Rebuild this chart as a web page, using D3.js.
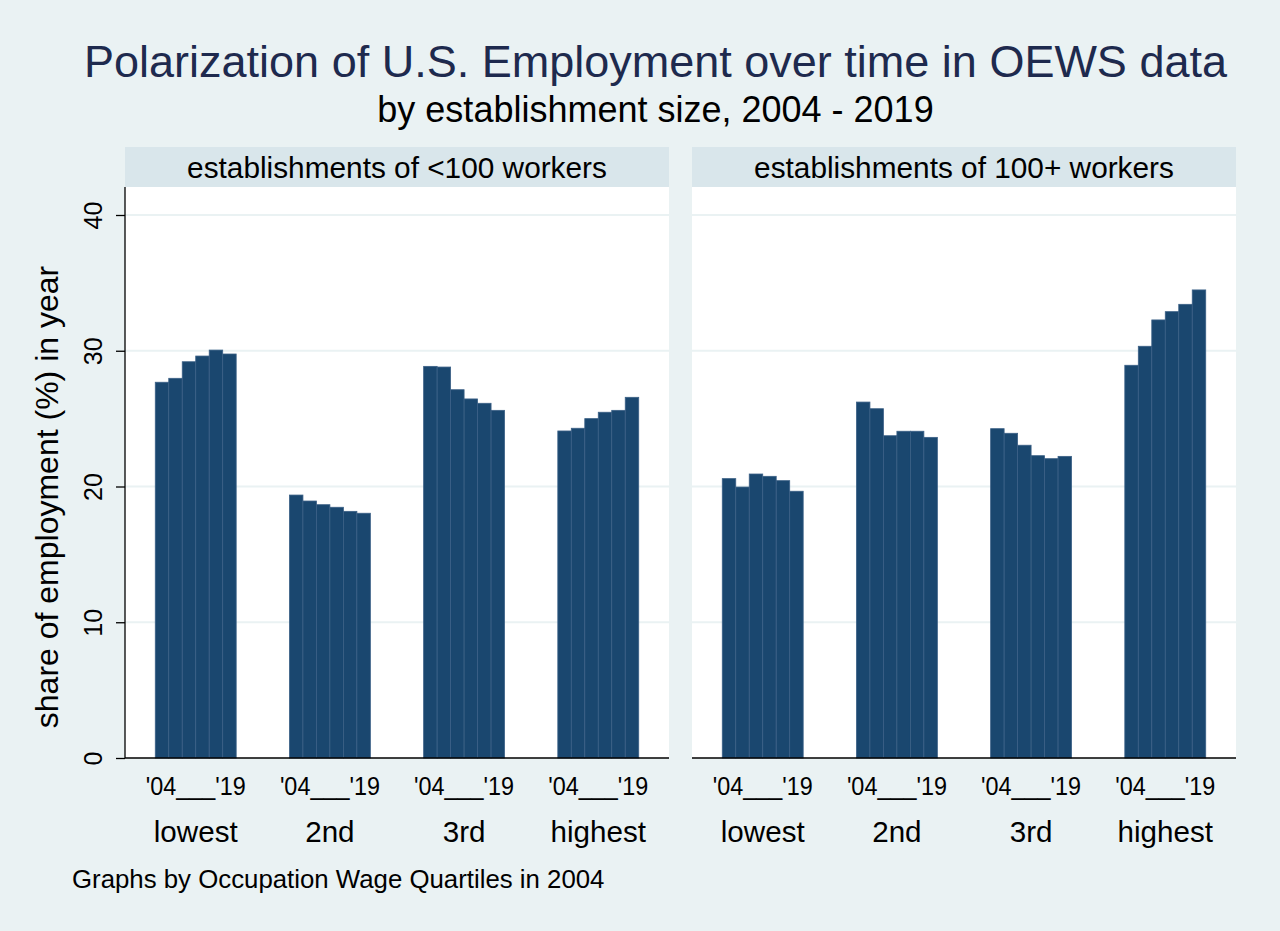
<!DOCTYPE html>
<html>
<head>
<meta charset="utf-8">
<script src="https://cdn.jsdelivr.net/npm/d3@7"></script>
<style>
  html, body { margin: 0; padding: 0; background: #EAF2F3; }
  svg { display: block; }
  text { font-family: "Liberation Sans", Arial, Helvetica, sans-serif; }
</style>
</head>
<body>
<svg id="chart" width="1280" height="931"></svg>
<script>
// ---------- data ----------
const titleText = "Polarization of U.S. Employment over time in OEWS data";
const subtitleText = "by establishment size, 2004 - 2019";
const yTitle = "share of employment (%) in year";
const noteText = "Graphs by Occupation Wage Quartiles in 2004";
const panels = ["establishments of <100 workers", "establishments of 100+ workers"];
const quartiles = ["lowest", "2nd", "3rd", "highest"];
const years = [2004, 2007, 2010, 2013, 2016, 2019];
const yearTickLabel = "'04___'19";
const yTicks = [0, 10, 20, 30, 40];

// share of employment, establishments of <100 workers (rows: quartiles, cols: years)
const smallLowest  = [27.68, 27.97, 29.19, 29.61, 30.05, 29.76];
const small2nd     = [19.37, 18.93, 18.66, 18.47, 18.17, 18.03];
const small3rd     = [28.85, 28.80, 27.13, 26.45, 26.13, 25.61];
const smallHighest = [24.09, 24.29, 25.00, 25.47, 25.61, 26.57];
// establishments of 100+ workers
const largeLowest  = [20.58, 19.96, 20.92, 20.75, 20.43, 19.65];
const large2nd     = [26.22, 25.73, 23.74, 24.07, 24.07, 23.62];
const large3rd     = [24.26, 23.92, 23.04, 22.27, 22.05, 22.22];
const largeHighest = [28.93, 30.33, 32.27, 32.88, 33.42, 34.48];

const panelValues = [
  [smallLowest, small2nd, small3rd, smallHighest],
  [largeLowest, large2nd, large3rd, largeHighest]
];

// ---------- layout ----------
const W = 1280, H = 931;
const bg = "#EAF2F3", stripFill = "#D9E6EB", barColor = "#1A476F";
const plotTop = 187, plotBottom = 758;
const panelX = [[125, 669], [692, 1236]];
const stripTop = 147;

const svg = d3.select("#chart");
svg.append("rect").attr("width", W).attr("height", H).attr("fill", bg);

const y = d3.scaleLinear().domain([0, 40]).range([plotBottom, 215]);

// titles
svg.append("text").attr("x", 655.5).attr("y", 77).attr("text-anchor", "middle")
  .attr("font-size", 45).attr("fill", "#1E2A4E").text(titleText);
svg.append("text").attr("x", 655.5).attr("y", 122).attr("text-anchor", "middle")
  .attr("font-size", 36).attr("fill", "#000").text(subtitleText);

panels.forEach((pname, pi) => {
  const [x0, x1] = panelX[pi];
  const g = svg.append("g");

  // strip
  g.append("rect").attr("x", x0).attr("y", stripTop).attr("width", x1 - x0)
    .attr("height", plotTop - stripTop).attr("fill", stripFill);
  g.append("text").attr("x", (x0 + x1) / 2).attr("y", 178).attr("text-anchor", "middle")
    .attr("font-size", 29.8).attr("fill", "#000").text(pname);

  // plot region
  g.append("rect").attr("x", x0).attr("y", plotTop).attr("width", x1 - x0)
    .attr("height", plotBottom - plotTop).attr("fill", "#fff");

  // gridlines
  g.selectAll("line.grid").data(yTicks.filter(t => t > 0)).join("line")
    .attr("x1", x0).attr("x2", x1)
    .attr("y1", d => y(d)).attr("y2", d => y(d))
    .attr("stroke", bg).attr("stroke-width", 2);

  // scales
  const xg = d3.scaleBand().domain(quartiles).range([x0, x1])
    .paddingInner(0.397).paddingOuter(0.2256);
  const xb = d3.scaleBand().domain(years).range([0, xg.bandwidth()]).padding(0);

  quartiles.forEach((q, qi) => {
    const vals = panelValues[pi][qi];
    g.append("g").attr("transform", `translate(${xg(q)},0)`)
      .selectAll("rect").data(vals).join("rect")
      .attr("x", (d, i) => xb(years[i]))
      .attr("width", xb.bandwidth())
      .attr("y", d => y(d))
      .attr("height", d => y(0) - y(d))
      .attr("fill", barColor)
      .attr("stroke", "#3B6086").attr("stroke-width", 0.8);

    const cx = xg(q) + xg.bandwidth() / 2;
    // year tick label
    g.append("text").attr("x", cx).attr("y", 795).attr("text-anchor", "middle")
      .attr("font-size", 25.5).attr("fill", "#000")
      .attr("textLength", 100).attr("lengthAdjust", "spacingAndGlyphs")
      .text(yearTickLabel);
    // group label
    g.append("text").attr("x", cx).attr("y", 842).attr("text-anchor", "middle")
      .attr("font-size", 29.6).attr("fill", "#000").text(q);
  });

  // x axis line
  g.append("line").attr("x1", x0).attr("x2", x1).attr("y1", plotBottom).attr("y2", plotBottom)
    .attr("stroke", "#000").attr("stroke-width", 1.3);

  // y axis on left panel only
  if (pi === 0) {
    const ax = g.append("g").attr("transform", `translate(${x0},0)`)
      .call(d3.axisLeft(y).tickValues(yTicks).tickSize(9).tickPadding(0).tickFormat(d3.format("d")));
    ax.select(".domain").attr("d", `M0,${plotTop}V${plotBottom}`).attr("stroke", "#000").attr("stroke-width", 1.3);
    ax.selectAll(".tick line").attr("stroke", "#000").attr("stroke-width", 1.3);
    ax.selectAll(".tick text")
      .attr("font-size", 25).attr("fill", "#000")
      .attr("font-family", "Liberation Sans, Arial, sans-serif")
      .attr("x", null).attr("dy", null)
      .attr("text-anchor", "middle")
      .attr("transform", "translate(-23,0) rotate(-90)");
  }
});

// y title
svg.append("text").attr("transform", "translate(58,497) rotate(-90)")
  .attr("text-anchor", "middle").attr("font-size", 32).attr("fill", "#000").text(yTitle);

// note
svg.append("text").attr("x", 72).attr("y", 888).attr("font-size", 25.8).attr("fill", "#000").text(noteText);
</script>
</body>
</html>
